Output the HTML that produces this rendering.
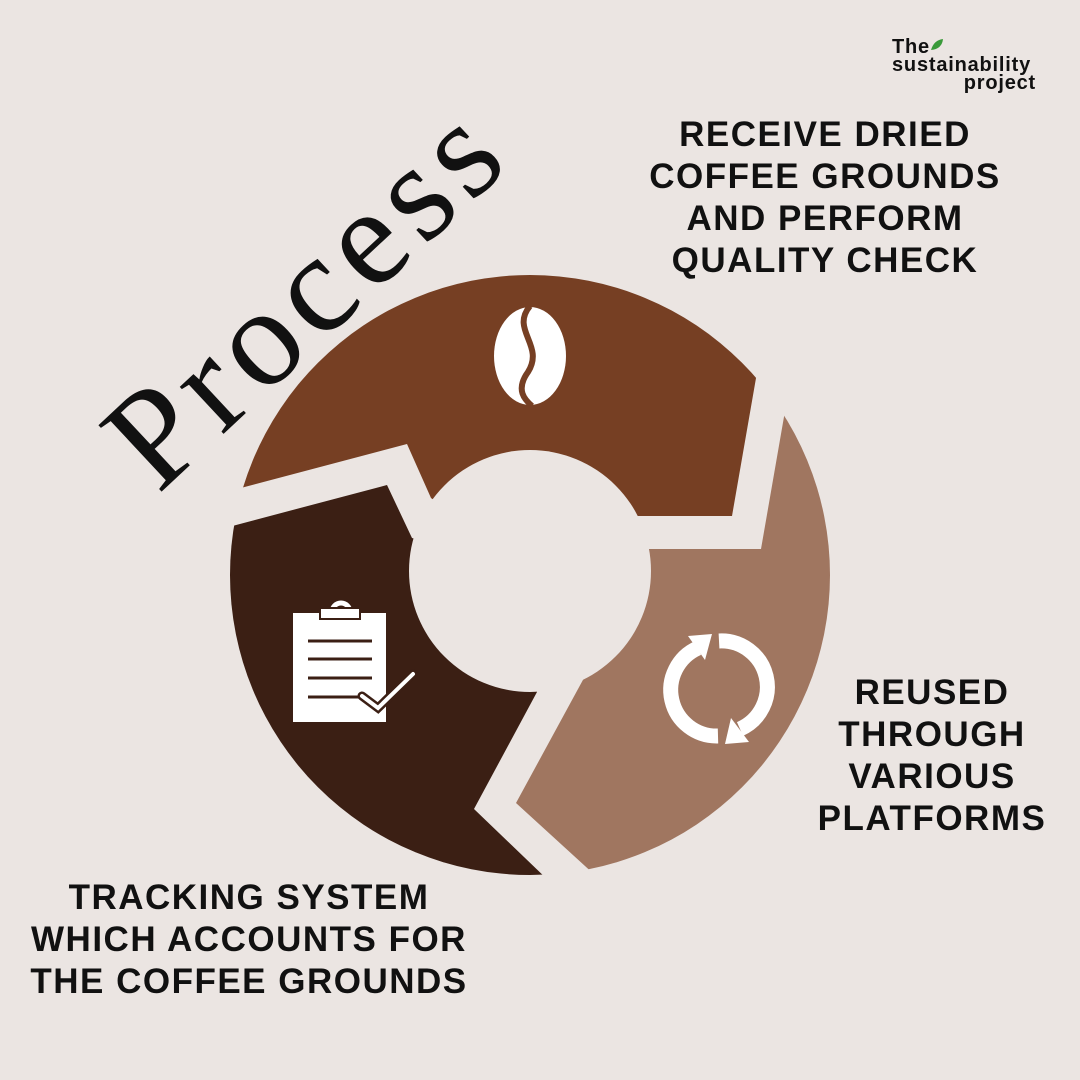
<!DOCTYPE html>
<html><head><meta charset="utf-8"><style>
html,body{margin:0;padding:0}
body{width:1080px;height:1080px;background:#ebe5e2;position:relative;overflow:hidden;font-family:"Liberation Sans",sans-serif}
.t{position:absolute;font-weight:bold;font-size:35px;line-height:42px;text-align:center;color:#111;letter-spacing:1.5px}
</style></head><body>
<svg width="1080" height="1080" style="position:absolute;left:0;top:0">
<defs><clipPath id="c"><circle cx="530" cy="575" r="300"/></clipPath></defs>
<g clip-path="url(#c)">
<polygon fill="#763f23" points="150,512 407,444 431,498 530,572 600,516 732,516 787,200 150,200"/>
<polygon fill="#a07660" points="813,250 761,549 600,549 530,572 584,678 516,803 700,971 900,971 900,250"/>
<polygon fill="#3b1f14" points="100,561 387,485 412,538 530,572 537,692 474,809 600,930 100,930"/>
</g>
<circle cx="530" cy="571" r="121" fill="#ebe5e2"/>
<ellipse cx="530" cy="356" rx="36" ry="49" fill="#fff"/>
<path d="M530,306 C510,330 545,345 528,372 C515,390 525,400 532,406" stroke="#763f23" stroke-width="6" fill="none"/>
<rect x="293" y="613" width="93" height="109" fill="#fff"/>
<path d="M332,612 a9,9 0 0 1 18,0" stroke="#fff" stroke-width="5" fill="none"/>
<rect x="320" y="608" width="40" height="11" fill="#fff" stroke="#3b1f14" stroke-width="2"/>
<g stroke="#3b1f14" stroke-width="3"><line x1="308" y1="641" x2="372" y2="641"/><line x1="308" y1="659" x2="372" y2="659"/><line x1="308" y1="678" x2="372" y2="678"/><line x1="308" y1="697" x2="365" y2="697"/></g>
<polyline points="362,696 378,708 413,674" stroke="#3b1f14" stroke-width="9" fill="none" stroke-linecap="round"/>
<polyline points="362,696 378,708 413,674" stroke="#fff" stroke-width="4" fill="none" stroke-linecap="round"/>
<g fill="none" stroke="#fff" stroke-width="15">
<path d="M718,736 A46,46 0 0 1 698,648"/>
<path d="M719,641 A46,46 0 0 1 740,729"/>
</g>
<polygon fill="#fff" points="688,636 712,634 705,660"/>
<polygon fill="#fff" points="749,742 725,744 731,718"/>
<text x="0" y="0" transform="translate(158,495) rotate(-43)" font-family="Liberation Serif,serif" font-size="140" letter-spacing="9" fill="#111">Process</text>
<path d="M931,50 q3,-10 12,-11 q-1,10 -12,11z" fill="#3a9a3a"/>
</svg>
<div style="position:absolute;left:892px;top:38px;font-weight:bold;font-size:20px;line-height:18px;letter-spacing:0.8px;color:#111;text-align:right;width:144px">
<div style="text-align:left">The</div><div style="text-align:left">sustainability</div><div>project</div></div>
<div class="t" style="left:575px;top:114px;width:500px;">RECEIVE DRIED<br>COFFEE GROUNDS<br>AND PERFORM<br>QUALITY CHECK</div>
<div class="t" style="left:782px;top:672px;width:300px;">REUSED<br>THROUGH<br>VARIOUS<br>PLATFORMS</div>
<div class="t" style="left:0px;top:877px;width:498px;">TRACKING SYSTEM<br>WHICH ACCOUNTS FOR<br>THE COFFEE GROUNDS</div>
</body></html>
